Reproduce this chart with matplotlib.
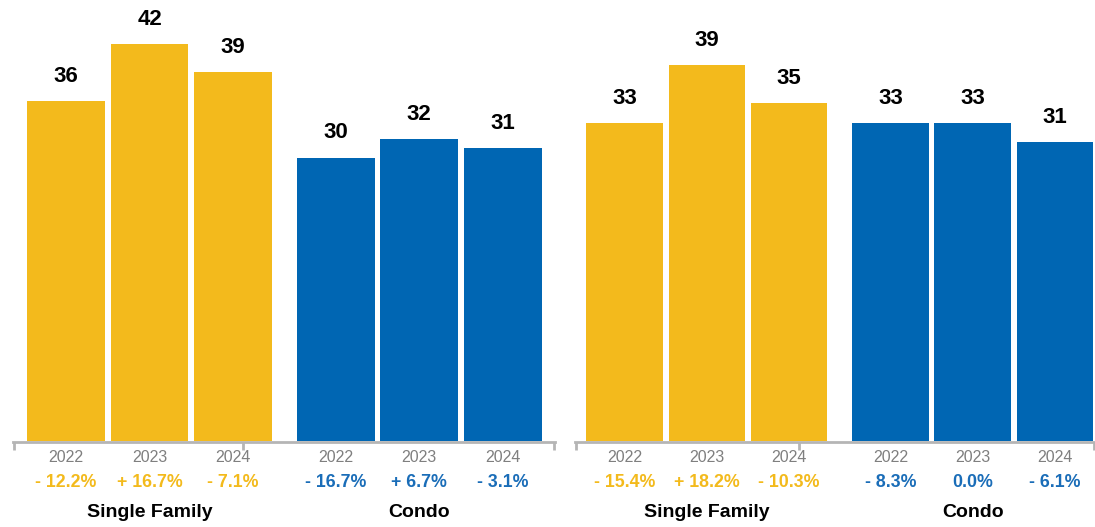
import matplotlib.pyplot as plt

years = ["2022", "2023", "2024"]
groups = ["Single Family", "Condo"]

left_single = [36, 42, 39]
left_condo = [30, 32, 31]
left_single_pct = ["- 12.2%", "+ 16.7%", "- 7.1%"]
left_condo_pct = ["- 16.7%", "+ 6.7%", "- 3.1%"]

right_single = [33, 39, 35]
right_condo = [33, 33, 31]
right_single_pct = ["- 15.4%", "+ 18.2%", "- 10.3%"]
right_condo_pct = ["- 8.3%", "0.0%", "- 6.1%"]

YELLOW = "#F3BA1C"
BLUE = "#0066B3"
BLUE_TXT = "#1A6DB8"
GRAY = "#b5b5b5"

plt.rcParams["font.family"] = ["Liberation Sans", "DejaVu Sans"]

W, H = 1095, 527
fig = plt.figure(figsize=(W / 100, H / 100), dpi=100)

BASE = 441  # baseline, pixels from top


def panel(left_px, right_px, px_per_unit, unit_px, first_center_px,
          single, condo, single_pct, condo_pct):
    ax = fig.add_axes([left_px / W, (H - BASE) / H, (right_px - left_px) / W, BASE / H])
    gap = 1.23
    xs_single = [0, 1, 2]
    xs_condo = [2 + gap, 3 + gap, 4 + gap]
    ax.bar(xs_single, single, width=0.93, color=YELLOW)
    ax.bar(xs_condo, condo, width=0.93, color=BLUE)

    x0 = (left_px - first_center_px) / unit_px
    x1 = (right_px - first_center_px) / unit_px
    ax.set_xlim(x0, x1)
    ax.set_ylim(0, BASE / px_per_unit)

    for s in ["top", "left", "right"]:
        ax.spines[s].set_visible(False)
    ax.spines["bottom"].set_color(GRAY)
    ax.spines["bottom"].set_linewidth(2)
    ax.spines["bottom"].set_position(("outward", 1))
    ax.set_xticks([x0 + 0.01, 1 + (1 + gap) / 2, x1 - 0.01])
    ax.set_xticklabels([])
    ax.tick_params(axis="x", direction="out", length=6, width=2, color=GRAY)
    ax.set_yticks([])

    def below(px):
        return (BASE - px) / BASE

    tr = ax.get_xaxis_transform()
    for xs, vals, pcts, pcolor, name in [
        (xs_single, single, single_pct, YELLOW, groups[0]),
        (xs_condo, condo, condo_pct, BLUE_TXT, groups[1]),
    ]:
        for x, v, yr, p in zip(xs, vals, years, pcts):
            ax.annotate(str(v), (x, v), xytext=(0, 19), textcoords="offset pixels",
                        ha="center", va="baseline", fontsize=16, fontweight="bold",
                        color="black")
            ax.text(x, below(462), yr, transform=tr, ha="center", va="baseline",
                    fontsize=11.5, color="#7f7f7f", clip_on=False)
            ax.text(x, below(487), p, transform=tr, ha="center", va="baseline",
                    fontsize=12.8, fontweight="bold", color=pcolor, clip_on=False)
        ax.text(xs[1], below(517), name, transform=tr, ha="center", va="baseline",
                fontsize=14, fontweight="bold", color="black", clip_on=False)
    return ax


panel(13, 555, 9.45, 83.5, 66, left_single, left_condo, left_single_pct, left_condo_pct)
panel(575, 1095, 9.65, 82.3, 624.5, right_single, right_condo, right_single_pct, right_condo_pct)

fig.savefig("out.png", dpi=100)
